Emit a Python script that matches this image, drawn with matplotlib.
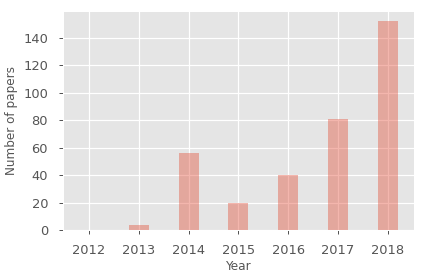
import matplotlib
matplotlib.use('Agg')
import matplotlib.pyplot as plt

plt.style.use('ggplot')

years = [2012, 2013, 2014, 2015, 2016, 2017, 2018]
papers = [0, 4, 56, 20, 40, 81, 152]

fig = plt.figure(figsize=(424/72., 280/72.), dpi=72)
ax = fig.add_axes([0.1486, 0.1786, 0.976-0.1486, 0.9607-0.1786])

ax.bar(years, papers, width=0.4, color='#E24A33', alpha=0.4)
ax.set_xticks(years)
ax.set_yticks(range(0, 141, 20))
ax.tick_params(labelsize=13, colors='#555555', length=4, width=1)
ax.tick_params(axis='x', pad=10)
ax.tick_params(axis='y', pad=11)
ax.set_xlabel('Year', fontsize=12, color='#555555', labelpad=3)
ax.set_ylabel('Number of papers', fontsize=12, color='#555555', labelpad=5)
ax.grid(color='white', linewidth=1.2)

fig.savefig('out.png', dpi=72)
